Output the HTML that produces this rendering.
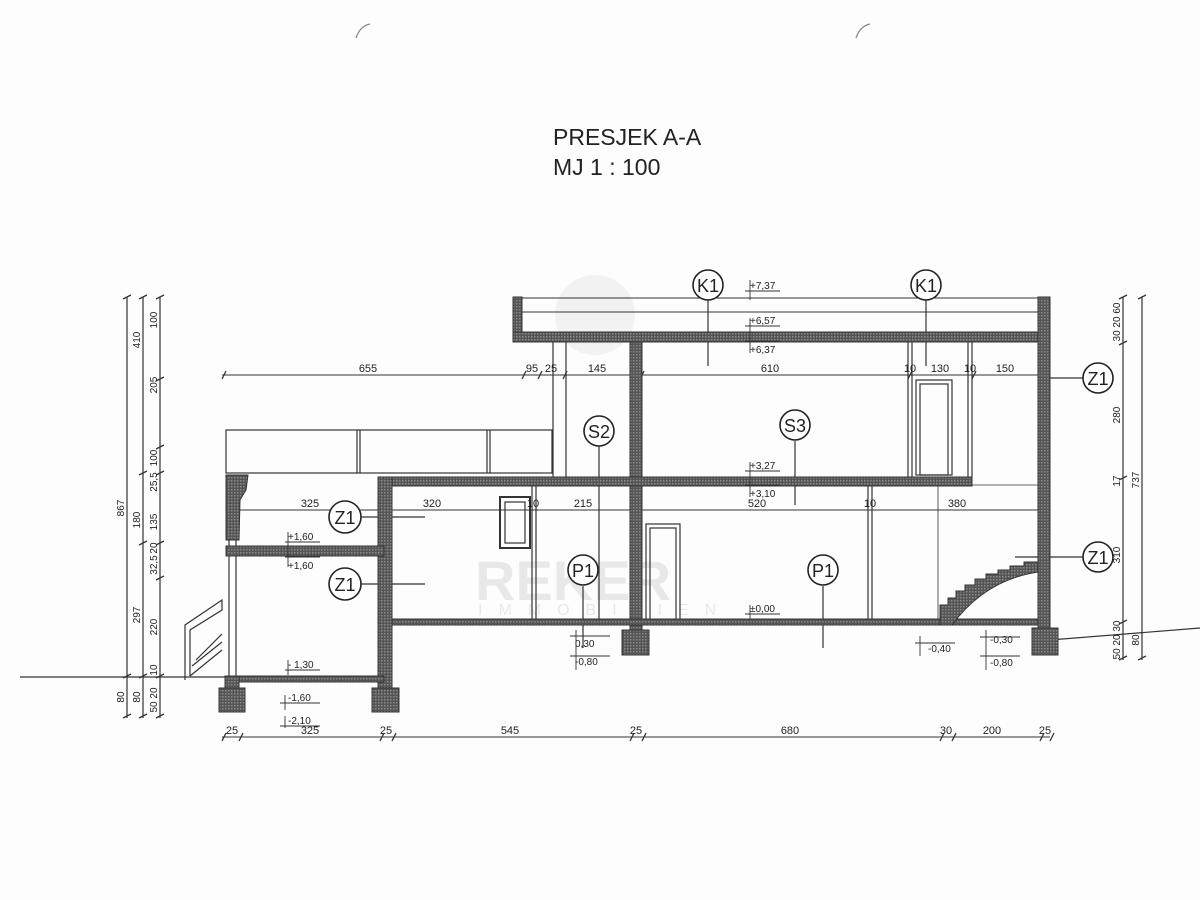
<!DOCTYPE html>
<html><head><meta charset="utf-8"><style>
html,body{margin:0;padding:0;background:#fff}
svg{display:block}
text{font-family:"Liberation Sans",sans-serif;fill:#222}
</style></head><body>
<svg width="1200" height="900" viewBox="0 0 1200 900" xmlns="http://www.w3.org/2000/svg">
<defs>
<pattern id="h" width="3" height="3" patternUnits="userSpaceOnUse">
<rect width="3" height="3" fill="#555"/><rect width="1.5" height="1.5" fill="#8a8a8a"/>
</pattern>
</defs>
<rect width="1200" height="900" fill="#fdfdfd"/>
<path d="M356 38 q4 -12 14 -14" stroke="#888" fill="none" stroke-width="1.2"/>
<path d="M856 38 q4 -12 14 -14" stroke="#888" fill="none" stroke-width="1.2"/>
<text x="553" y="145" font-size="23">PRESJEK A-A</text>
<text x="553" y="175" font-size="23">MJ 1 : 100</text>

<!-- watermark -->
<g opacity="0.09" fill="#888" stroke="none">
<circle cx="595" cy="315" r="40"/>
<text x="475" y="600" font-size="56" font-weight="bold" fill="#999">REKER</text>
<text x="478" y="615" font-size="16" letter-spacing="16" fill="#999">IMMOBILIEN</text>
</g>

<g stroke="#333" stroke-width="1.2" fill="none">
<line x1="522" y1="312" x2="1040" y2="312" stroke-width="1"/>
<line x1="522" y1="298" x2="1040" y2="298" stroke-width="1"/>
<rect x="226" y="430" width="326" height="43"/>
<line x1="357" y1="430" x2="357" y2="473"/>
<line x1="360" y1="430" x2="360" y2="473"/>
<line x1="487" y1="430" x2="487" y2="473"/>
<line x1="490" y1="430" x2="490" y2="473"/>
<line x1="553" y1="342" x2="553" y2="477"/><line x1="566" y1="342" x2="566" y2="477"/>
<line x1="908" y1="342" x2="908" y2="477"/><line x1="912" y1="342" x2="912" y2="477"/>
<line x1="968" y1="342" x2="968" y2="477"/><line x1="972" y1="342" x2="972" y2="477"/>
<rect x="916" y="380" width="36" height="95"/><rect x="920" y="384" width="28" height="91"/>
<line x1="532" y1="486" x2="532" y2="620"/><line x1="536" y1="486" x2="536" y2="620"/>
<line x1="868" y1="486" x2="868" y2="620"/><line x1="872" y1="486" x2="872" y2="620"/>
<line x1="938" y1="486" x2="938" y2="620" stroke-width="0.8"/>
<line x1="972" y1="485" x2="1040" y2="485" stroke-width="0.8"/>
<rect x="500" y="497" width="30" height="51" stroke-width="2"/><rect x="505" y="502" width="20" height="41"/>
<rect x="646" y="524" width="34" height="96"/><rect x="650" y="528" width="26" height="92"/>
<line x1="229" y1="540" x2="229" y2="676"/><line x1="236" y1="540" x2="236" y2="676"/>
<path d="M185 680 L185 625 L222 600 L222 610 L190 630 L190 676"/>
<path d="M190 676 L222 650 M192 666 L222 642 M196 660 L222 634"/>
<line x1="20" y1="677" x2="226" y2="677"/>
<line x1="1050" y1="640" x2="1200" y2="628"/>
<line x1="222" y1="375" x2="1050" y2="375" stroke-width="0.9"/>
<line x1="1050" y1="378" x2="1083" y2="378"/>
<line x1="226" y1="510" x2="1050" y2="510" stroke-width="0.9"/>
<line x1="222" y1="737" x2="1050" y2="737" stroke-width="0.9"/>
<line x1="127" y1="297" x2="127" y2="718"/>
<line x1="143" y1="297" x2="143" y2="718"/>
<line x1="160" y1="297" x2="160" y2="718"/>
<line x1="1123" y1="297" x2="1123" y2="660"/>
<line x1="1142" y1="297" x2="1142" y2="660"/>
<line x1="708" y1="300" x2="708" y2="366"/>
<line x1="926" y1="300" x2="926" y2="366"/>
<line x1="599" y1="446" x2="599" y2="620"/>
<line x1="795" y1="441" x2="795" y2="505"/>
<line x1="583" y1="586" x2="583" y2="648"/>
<line x1="823" y1="586" x2="823" y2="648"/>
<line x1="361" y1="517" x2="425" y2="517"/>
<line x1="361" y1="584" x2="425" y2="584"/>
<line x1="1015" y1="557" x2="1083" y2="557"/>
</g>
<g stroke="#333" stroke-width="1.3">
<path d="M222 379 l4 -8 M522 379 l4 -8 M538 379 l4 -8 M563 379 l4 -8 M630 379 l4 -8 M640 379 l4 -8 M908 379 l4 -8 M972 379 l4 -8 M1040 379 l4 -8"/>
<path d="M222 741 l4 -8 M239 741 l4 -8 M380 741 l4 -8 M392 741 l4 -8 M630 741 l4 -8 M642 741 l4 -8 M940 741 l4 -8 M952 741 l4 -8 M1040 741 l4 -8 M1050 741 l4 -8"/>
<path d="M123 299 l8 -4 M139 299 l8 -4 M156 299 l8 -4 M156 381 l8 -4 M156 449 l8 -4 M139 475 l8 -4 M156 475 l8 -4 M139 545 l8 -4 M156 545 l8 -4 M156 580 l8 -4 M123 678 l8 -4 M139 678 l8 -4 M156 678 l8 -4 M123 718 l8 -4 M139 718 l8 -4 M156 718 l8 -4"/>
<path d="M1119 299 l8 -4 M1138 299 l8 -4 M1119 345 l8 -4 M1119 480 l8 -4 M1119 624 l8 -4 M1119 660 l8 -4 M1138 660 l8 -4"/>
</g>
<g fill="url(#h)" stroke="#333" stroke-width="1">
<rect x="513" y="297" width="9" height="45"/>
<rect x="513" y="332" width="537" height="10"/>
<rect x="1038" y="297" width="12" height="343"/>
<rect x="1032" y="628" width="26" height="27"/>
<rect x="630" y="342" width="12" height="290"/>
<rect x="622" y="630" width="27" height="25"/>
<rect x="385" y="477" width="587" height="9"/>
<rect x="385" y="619" width="653" height="6"/>
<rect x="378" y="477" width="14" height="212"/>
<rect x="372" y="688" width="27" height="24"/>
<path d="M226 475 L248 475 L246 490 L240 500 L239 540 L226 540 Z"/>
<rect x="226" y="546" width="158" height="10"/>
<rect x="226" y="676" width="158" height="6"/>
<rect x="225" y="676" width="14" height="12"/>
<rect x="219" y="688" width="26" height="24"/>
<path d="M940 625 L940 605 L948 605 L948 598 L956 598 L956 591 L965 591 L965 585 L975 585 L975 579 L986 579 L986 574 L998 574 L998 570 L1010 570 L1010 566 L1024 566 L1024 562 L1038 562 L1038 572 Q985 580 952 625 Z"/>
</g>
<g stroke="#222" stroke-width="1.6" fill="#fff">
<circle cx="708" cy="285" r="15"/><circle cx="926" cy="285" r="15"/>
<circle cx="1098" cy="378" r="15"/><circle cx="1098" cy="557" r="15"/>
<circle cx="345" cy="517" r="16"/><circle cx="345" cy="584" r="16"/>
<circle cx="599" cy="431" r="15"/><circle cx="795" cy="425" r="15"/>
<circle cx="583" cy="570" r="15"/><circle cx="823" cy="570" r="15"/>
</g>
<g font-size="18" text-anchor="middle">
<text x="708" y="292">K1</text><text x="926" y="292">K1</text>
<text x="1098" y="385">Z1</text><text x="1098" y="564">Z1</text>
<text x="345" y="524">Z1</text><text x="345" y="591">Z1</text>
<text x="599" y="438">S2</text><text x="795" y="432">S3</text>
<text x="583" y="577">P1</text><text x="823" y="577">P1</text>
</g>
<g font-size="11" text-anchor="middle">
<text x="368" y="372">655</text><text x="532" y="372">95</text><text x="551" y="372">25</text>
<text x="597" y="372">145</text><text x="770" y="372">610</text><text x="910" y="372">10</text>
<text x="940" y="372">130</text><text x="970" y="372">10</text><text x="1005" y="372">150</text>
<text x="310" y="507">325</text><text x="432" y="507">320</text><text x="533" y="507">10</text>
<text x="583" y="507">215</text><text x="757" y="507">520</text><text x="870" y="507">10</text>
<text x="957" y="507">380</text>
<text x="232" y="734">25</text><text x="310" y="734">325</text><text x="386" y="734">25</text>
<text x="510" y="734">545</text><text x="636" y="734">25</text><text x="790" y="734">680</text>
<text x="946" y="734">30</text><text x="992" y="734">200</text><text x="1045" y="734">25</text>
</g>
<g font-size="10">
<text x="750" y="289">+7,37</text><text x="750" y="324">+6,57</text><text x="750" y="353">+6,37</text>
<text x="750" y="469">+3,27</text><text x="750" y="497">+3,10</text><text x="750" y="612">±0,00</text>
<text x="288" y="540">+1,60</text><text x="288" y="569">+1,60</text>
<text x="288" y="668">- 1,30</text><text x="288" y="701">-1,60</text><text x="288" y="724">-2,10</text>
<text x="575" y="647">0,30</text><text x="575" y="665">-0,80</text>
<text x="928" y="652">-0,40</text><text x="990" y="643">-0,30</text><text x="990" y="666">-0,80</text>
</g>
<g stroke="#333" stroke-width="0.9">
<path d="M745 291 h35 M745 326 h35 M745 341 h35 M745 471 h35 M745 485 h35 M745 614 h35 M285 542 h35 M285 557 h35 M285 670 h35 M280 703 h40 M280 726 h40 M570 636 h40 M570 656 h40 M915 643 h40 M980 637 h40 M980 656 h40"/>
<path d="M750 280 v20 M750 318 v35 M750 462 v35 M750 605 v15 M288 532 v35 M288 660 v15 M285 695 v15 M285 716 v12 M576 630 v40 M920 636 v20 M986 630 v40"/>
</g>
<g font-size="10" text-anchor="middle">
<text transform="translate(124,508) rotate(-90)">867</text>
<text transform="translate(140,340) rotate(-90)">410</text>
<text transform="translate(140,520) rotate(-90)">180</text>
<text transform="translate(140,615) rotate(-90)">297</text>
<text transform="translate(124,697) rotate(-90)">80</text>
<text transform="translate(140,697) rotate(-90)">80</text>
<text transform="translate(157,320) rotate(-90)">100</text>
<text transform="translate(157,385) rotate(-90)">205</text>
<text transform="translate(157,458) rotate(-90)">100</text>
<text transform="translate(157,482) rotate(-90)">25,5</text>
<text transform="translate(157,522) rotate(-90)">135</text>
<text transform="translate(157,548) rotate(-90)">20</text>
<text transform="translate(157,565) rotate(-90)">32,5</text>
<text transform="translate(157,627) rotate(-90)">220</text>
<text transform="translate(157,670) rotate(-90)">10</text>
<text transform="translate(157,700) rotate(-90)">50 20</text>
<text transform="translate(1120,322) rotate(-90)">30 20 60</text>
<text transform="translate(1120,415) rotate(-90)">280</text>
<text transform="translate(1120,481) rotate(-90)">17</text>
<text transform="translate(1120,555) rotate(-90)">310</text>
<text transform="translate(1120,640) rotate(-90)">50 20 30</text>
<text transform="translate(1139,480) rotate(-90)">737</text>
<text transform="translate(1139,640) rotate(-90)">80</text>
</g>
</svg>
</body></html>
